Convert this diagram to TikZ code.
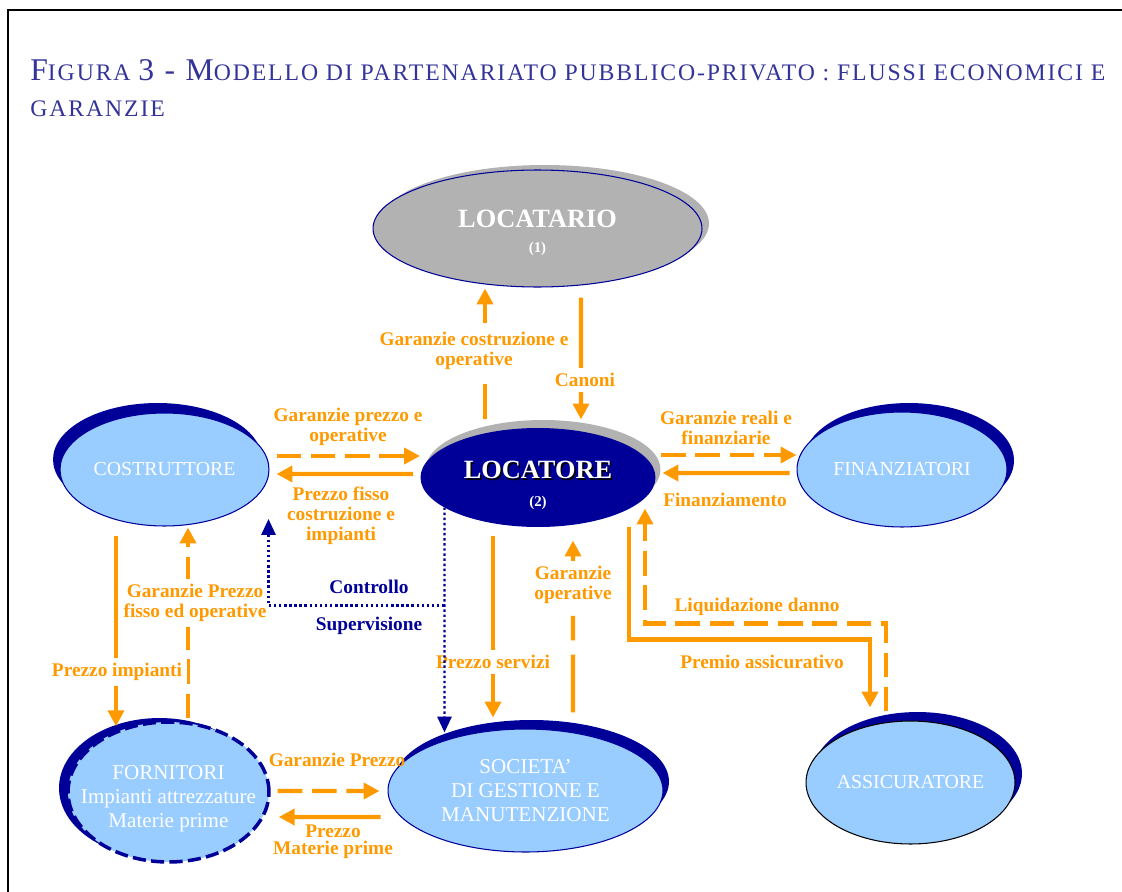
\documentclass[tikz,border=0pt]{standalone}
\usepackage{fontspec}
\setmainfont{Liberation Serif}
\newfontfamily\titolofont{Liberation Serif}[LetterSpace=8]
\usetikzlibrary{positioning,arrows.meta,shapes.geometric,shadows,calc}
\definecolor{Arancio}{HTML}{FF9900}
\definecolor{BluNotte}{HTML}{000099}
\definecolor{Celeste}{HTML}{99CCFF}
\definecolor{Grigio}{HTML}{B2B2B2}
\definecolor{TitoloBlu}{HTML}{333399}
\newcommand{\fs}[2]{\fontsize{#1}{#2}\selectfont}
\newcommand{\ombra}[1]{\makebox[0pt][l]{\kern0.9pt\raisebox{-0.9pt}{\color{black}#1}}#1}
\newcommand{\grande}[1]{{\fs{18}{20}#1}}

\begin{document}
\begin{tikzpicture}[x=0.02cm, y=-0.02cm,
  ente/.style        = {ellipse, inner sep=0pt, inner xsep=-4pt, fill=Celeste,
                        draw=BluNotte, line width=0.6pt, text=white,
                        align=center, font=\fs{11.3}{13.6}},
  ombrablu/.style 2 args    = {drop shadow={shadow xshift=#1, shadow yshift=#2,
                               fill=BluNotte, opacity=1}},
  ombragrigia/.style 2 args = {drop shadow={shadow xshift=#1, shadow yshift=#2,
                               fill=Grigio, opacity=1}},
  flusso/.style      = {-{Triangle[length=9pt,width=9pt]}, line width=2.4pt, Arancio},
  garanzia/.style    = {flusso, dash pattern=on 14pt off 5.5pt},
  controllo/.style   = {-{Triangle[length=9pt,width=8pt]}, line width=1.4pt,
                        BluNotte, dash pattern=on 1.4pt off 1.5pt},
  etich/.style       = {font=\bfseries\fs{11}{11.3}, text=Arancio, align=center,
                        inner sep=1pt},
  etichb/.style      = {etich, fill=white, inner sep=3pt},
  etichn/.style      = {etich, text=BluNotte},
  titolo/.style      = {inner sep=0pt, text=TitoloBlu, font=\titolofont\fs{13.5}{15},
                        anchor=base west}
]
  \useasboundingbox (0,0) rectangle (1122,892);
  \draw[line width=0.8pt] (8,892) -- (8,10) -- (1122,10);

  \node[titolo] (titolo1) at (30,81)
    {\grande{F}IGURA \grande{3 - M}ODELLO DI PARTENARIATO PUBBLICO-PRIVATO : FLUSSI ECONOMICI E};
  \node[titolo] (titolo2) at (30,116) {GARANZIE};

  % soggetti
  \node[ente, fill=Grigio, minimum width=6.58cm, minimum height=2.34cm,
        ombragrigia={0.14cm}{0.1cm}] (locatario) at (537.5,228.5)
    {\rule{0pt}{15pt}{\bfseries\fs{15}{17}LOCATARIO}\\[1pt]{\bfseries\fs{8.5}{9}(1)}};
  \node[ente, fill=BluNotte, draw=none, minimum width=4.7cm, minimum height=1.98cm,
        ombragrigia={0.1cm}{0.16cm}] (locatore) at (538,477.5)
    {\rule{0pt}{19pt}{\bfseries\fs{15}{17}\ombra{LOCATORE}}\\[2pt]{\bfseries\fs{8.5}{9}(2)}};
  \node[ente, minimum width=4.18cm, minimum height=2.26cm,
        ombrablu={-0.14cm}{0.2cm}] (costruttore) at (164.5,469.5) {COSTRUTTORE};
  \node[ente, minimum width=4.2cm, minimum height=2.3cm,
        ombrablu={0.14cm}{0.18cm}] (finanziatori) at (902,469.5) {FINANZIATORI};
  \node[ente, minimum width=4.02cm, minimum height=2.8cm, inner xsep=-12pt,
        font=\fs{12}{13.6}, line width=2pt, dash pattern=on 7.5pt off 3pt,
        ombrablu={-0.18cm}{0.08cm}] (fornitori) at (168.5,792)
    {\rule{0pt}{16pt}FORNITORI\\Impianti attrezzature\\Materie prime};
  \node[ente, minimum width=5.5cm, minimum height=2.46cm, font=\fs{12}{13.6},
        ombrablu={0.12cm}{0.18cm}] (societa) at (525.5,790.5)
    {SOCIETA'\\DI GESTIONE E\\MANUTENZIONE};
  \node[ente, draw=black, minimum width=4.18cm, minimum height=2.46cm,
        ombrablu={0.14cm}{0.18cm}] (assicuratore) at (910.5,782.5) {ASSICURATORE};

  % flussi economici e garanzie
  \draw[garanzia, dash pattern=on 20pt off 35pt on 22pt] ($(locatore.north)+(-53,-8)$)
                  -- ($(locatario.south)+(-52.5,1)$);
  \draw[flusso]   ($(locatario.south)+(43.5,10)$) -- ($(locatore.north)+(43,-8)$);
  \draw[garanzia] ($(costruttore.east)+(7,-13.5)$) -- ($(locatore.west)+(0,-21.5)$);
  \draw[flusso]   ($(locatore.west)+(-7,-3.5)$) -- ($(costruttore.east)+(7,4.5)$);
  \draw[garanzia] ($(locatore.east)+(5,-22.5)$) -- ($(finanziatori.west)+(0,-14.5)$);
  \draw[flusso]   ($(finanziatori.west)+(-7,3.5)$) -- ($(locatore.east)+(6.5,-4.5)$);
  \draw[flusso]   ($(costruttore.south)+(-48.5,9)$) -- ($(fornitori.north)+(-52.5,6)$);
  \draw[garanzia] ($(fornitori.north)+(19.5,-2)$) -- ($(costruttore.south)+(23.5,1)$);
  \draw[flusso]   ($(locatore.south)+(-45,8)$) -- ($(societa.north)+(-32.5,-11)$);
  \draw[garanzia, dash pattern=on 33pt off 8pt on 14pt off 29pt on 20pt]
                  ($(societa.north)+(47.5,-16)$) -- ($(locatore.south)+(35,13)$);
  \draw[flusso]   ($(locatore.south)+(91,-1)$) |- ($(assicuratore.north)+(-40.5,-81)$)
                  -- ($(assicuratore.north)+(-40.5,-13)$);
  \draw[garanzia] ($(assicuratore.north)+(-24.5,-9)$) |- ($(locatore.south)+(107,96)$)
                  -- ($(locatore.south)+(107,-19)$);
  \draw[garanzia] ($(fornitori.east)+(7,-1)$) -- ($(societa.west)+(-8,0.5)$);
  \draw[flusso]   ($(societa.west)+(-7,26.5)$) -- ($(fornitori.east)+(8,25)$);

  \node[etichb] (lGarCostr)  at (474,351) {Garanzie costruzione e\\operative};
  \node[etichb] (lCanoni)    at (585,380) {Canoni};
  \node[etich]  (lGarPrezzo) at (348,427) {Garanzie prezzo e\\operative};
  \node[etich]  (lPrezzoFis) at (341,516) {Prezzo fisso\\costruzione e\\impianti};
  \node[etich]  (lGarReali)  at (726,428) {Garanzie reali e\\finanziarie};
  \node[etich]  (lFinanz)    at (725,500) {Finanziamento};
  \node[etichb] (lPrezzoImp) at (117,672) {Prezzo impianti};
  \node[etichb] (lGarFisso)  at (195,603) {Garanzie Prezzo\\fisso ed operative};
  \node[etichb] (lServizi)   at (493,662) {Prezzo servizi};
  \node[etichb] (lGarOper)   at (573,585) {Garanzie\\operative};
  \node[etich]  (lLiquid)    at (757,607) {Liquidazione danno};
  \node[etich]  (lPremio)    at (762,662) {Premio assicurativo};
  \node[etich]  (lGarForn)   at (337,760) {Garanzie Prezzo};
  \node[etich, font=\bfseries\fs{11}{9.8}] (lMaterie) at (333,842) {Prezzo\\Materie prime};

  % controllo e supervisione
  \coordinate (bivio) at ($(locatore.south)+(-93.5,78)$);
  \draw[controllo] ($(locatore.south)+(-93.5,-20)$) -- ($(societa.north)+(-81,4)$);
  \draw[controllo] (bivio) -| ($(costruttore.east)+(-1,49.5)$);
  \node[etichn] (lControllo) at (369,587) {Controllo};
  \node[etichn] (lSuperv)    at (369,626) {Supervisione};
\end{tikzpicture}
\end{document}
